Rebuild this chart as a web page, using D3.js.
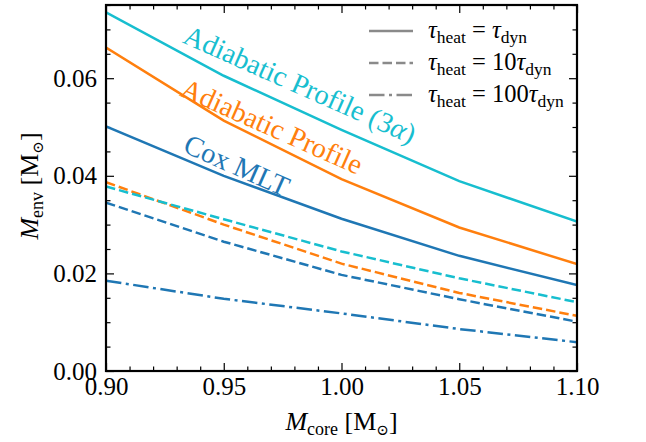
<!DOCTYPE html>
<html>
<head>
<meta charset="utf-8">
<script src="https://cdn.jsdelivr.net/npm/d3@7"></script>
<style>
  html, body { margin: 0; padding: 0; background: #fff; }
  svg { display: block; }
  text { font-family: "Liberation Serif", "DejaVu Serif", serif; fill: #000; }
</style>
</head>
<body>
<svg id="chart" width="646" height="442"></svg>
<script>
// Core mass grid (M_sun)
const coreMass = [0.90, 0.95, 1.00, 1.05, 1.10];

// Envelope mass (M_sun), tau_heat = tau_dyn
const adiabatic3aDyn = [0.0735, 0.0605, 0.0494, 0.0389, 0.0306];
const adiabaticDyn   = [0.0663, 0.0513, 0.0393, 0.0294, 0.0219];
const coxDyn         = [0.0501, 0.0400, 0.0312, 0.0236, 0.0176];

// tau_heat = 10 tau_dyn
const adiabatic3a10 = [0.0378, 0.0311, 0.0245, 0.0190, 0.0141];
const adiabatic10   = [0.0387, 0.0300, 0.0220, 0.0160, 0.0113];
const cox10         = [0.0345, 0.0265, 0.0197, 0.0147, 0.0101];

// tau_heat = 100 tau_dyn
const cox100 = [0.0185, 0.0148, 0.0118, 0.0086, 0.0059];

// Axis ticks
const xMajorTicks = [0.90, 0.95, 1.00, 1.05, 1.10];
const yMajorTicks = [0.00, 0.02, 0.04, 0.06];

const C_BLUE = "#1f77b4", C_ORANGE = "#ff7f0e", C_CYAN = "#17becf";

const W = 646, H = 442;
const margin = { left: 106, right: 69, top: 5, bottom: 71 };
const pw = W - margin.left - margin.right;
const ph = H - margin.top - margin.bottom;

const svg = d3.select("#chart");
const g = svg.append("g").attr("transform", `translate(${margin.left},${margin.top})`);

const x = d3.scaleLinear().domain([0.90, 1.10]).range([0, pw]);
const y = d3.scaleLinear().domain([0, 0.075]).range([ph, 0]);

const xMinor = d3.range(0, 21).map(i => 0.90 + i * 0.01).filter(v => !xMajorTicks.some(t => Math.abs(t - v) < 1e-9));
const yMinor = d3.range(0, 16).map(i => i * 0.005).filter(v => !yMajorTicks.some(t => Math.abs(t - v) < 1e-9));

const fmt = d3.format(".2f");
const MAJ = 8, MIN = 4.5;

function styleAxis(sel) {
  sel.select(".domain").remove();
  sel.selectAll(".tick line").attr("stroke", "#000").attr("stroke-width", 1.2);
  sel.selectAll(".tick text")
    .style("font-family", '"Liberation Serif", "DejaVu Serif", serif')
    .style("font-size", "25px")
    .attr("fill", "#000");
}

// Bottom axis (labels) + minor ticks
g.append("g").attr("transform", `translate(0,${ph})`)
  .call(d3.axisBottom(x).tickValues(xMajorTicks).tickFormat(fmt).tickSizeInner(-MAJ).tickSizeOuter(0).tickPadding(6))
  .call(styleAxis);
g.append("g").attr("transform", `translate(0,${ph})`)
  .call(d3.axisBottom(x).tickValues(xMinor).tickFormat("").tickSizeInner(-MIN).tickSizeOuter(0))
  .call(styleAxis);
// Top axis
g.append("g")
  .call(d3.axisTop(x).tickValues(xMajorTicks).tickFormat("").tickSizeInner(-MAJ).tickSizeOuter(0))
  .call(styleAxis);
g.append("g")
  .call(d3.axisTop(x).tickValues(xMinor).tickFormat("").tickSizeInner(-MIN).tickSizeOuter(0))
  .call(styleAxis);
// Left axis (labels)
g.append("g")
  .call(d3.axisLeft(y).tickValues(yMajorTicks).tickFormat(fmt).tickSizeInner(-MAJ).tickSizeOuter(0).tickPadding(9))
  .call(styleAxis);
g.append("g")
  .call(d3.axisLeft(y).tickValues(yMinor).tickFormat("").tickSizeInner(-MIN).tickSizeOuter(0))
  .call(styleAxis);
// Right axis
g.append("g").attr("transform", `translate(${pw},0)`)
  .call(d3.axisRight(y).tickValues(yMajorTicks).tickFormat("").tickSizeInner(-MAJ).tickSizeOuter(0))
  .call(styleAxis);
g.append("g").attr("transform", `translate(${pw},0)`)
  .call(d3.axisRight(y).tickValues(yMinor).tickFormat("").tickSizeInner(-MIN).tickSizeOuter(0))
  .call(styleAxis);

// Curves
g.append("clipPath").attr("id", "plotclip")
  .append("rect").attr("width", pw).attr("height", ph);

const line = d3.line().x(d => x(d[0])).y(d => y(d[1]));
const DASH = "9.5,4";
const DASHDOT = "15.5,4.5,3,4.5";
const LW = 2.5;

const series = [
  { v: cox100, color: C_BLUE, dash: DASHDOT },
  { v: cox10, color: C_BLUE, dash: DASH },
  { v: adiabatic10, color: C_ORANGE, dash: DASH },
  { v: adiabatic3a10, color: C_CYAN, dash: DASH },
  { v: coxDyn, color: C_BLUE, dash: null },
  { v: adiabaticDyn, color: C_ORANGE, dash: null },
  { v: adiabatic3aDyn, color: C_CYAN, dash: null }
];

const curves = g.append("g").attr("clip-path", "url(#plotclip)");
series.forEach(s => {
  curves.append("path")
    .datum(coreMass.map((m, i) => [m, s.v[i]]))
    .attr("d", line)
    .attr("fill", "none")
    .attr("stroke", s.color)
    .attr("stroke-width", LW)
    .attr("stroke-dasharray", s.dash)
    .attr("stroke-linecap", "butt");
});

// Frame
g.append("rect").attr("width", pw).attr("height", ph)
  .attr("fill", "none").attr("stroke", "#000").attr("stroke-width", 2.2);

// In-line curve labels, rotated along the curves
const curveLabels = [
  { text: "Adiabatic Profile (3α)", color: C_CYAN, at: [0.9824, 0.0588] },
  { text: "Adiabatic Profile", color: C_ORANGE, at: [0.9705, 0.0502] },
  { text: "Cox MLT", color: C_BLUE, at: [0.9556, 0.0422] }
];
curveLabels.forEach(l => {
  const t = g.append("text")
    .attr("transform", `translate(${x(l.at[0])},${y(l.at[1])}) rotate(24)`)
    .attr("text-anchor", "middle")
    .attr("dy", "0.35em")
    .style("font-size", "28.5px")
    .style("fill", l.color);
  if (l.text.endsWith("(3α)")) {
    t.append("tspan").text("Adiabatic Profile (3");
    t.append("tspan").style("font-style", "italic").text("α");
    t.append("tspan").text(")");
  } else {
    t.text(l.text);
  }
});

// Legend
const legendItems = [
  { dash: null, factor: "" },
  { dash: DASH, factor: "10" },
  { dash: DASHDOT, factor: "100" }
];
const legend = svg.append("g");
legendItems.forEach((it, i) => {
  const ly = 31 + i * 32;
  legend.append("line")
    .attr("x1", 369).attr("x2", 413).attr("y1", ly).attr("y2", ly)
    .attr("stroke", "#8a8a8a").attr("stroke-width", LW)
    .attr("stroke-dasharray", it.dash);
  const t = legend.append("text").attr("x", 428).attr("y", ly + 7).style("font-size", "24.5px");
  t.append("tspan").style("font-style", "italic").text("τ");
  t.append("tspan").attr("dy", 5).style("font-size", "17.5px").text("heat");
  t.append("tspan").attr("dy", -5).text(" = " + it.factor);
  t.append("tspan").style("font-style", "italic").text("τ");
  t.append("tspan").attr("dy", 5).style("font-size", "17.5px").text("dyn");
});

// Axis titles
const xt = svg.append("text")
  .attr("x", margin.left + pw / 2).attr("y", 430)
  .attr("text-anchor", "middle").style("font-size", "26px");
xt.append("tspan").style("font-style", "italic").text("M");
xt.append("tspan").attr("dy", 5).style("font-size", "18px").text("core");
xt.append("tspan").attr("dy", -5).text(" [M");
xt.append("tspan").attr("dy", 5).style("font-size", "15px").style("font-family", '"DejaVu Serif", serif').text("⊙");
xt.append("tspan").attr("dy", -5).text("]");

const yt = svg.append("text")
  .attr("transform", `translate(38,${margin.top + ph / 2 - 2}) rotate(-90)`)
  .attr("text-anchor", "middle").style("font-size", "26px");
yt.append("tspan").style("font-style", "italic").text("M");
yt.append("tspan").attr("dy", 5).style("font-size", "18px").text("env");
yt.append("tspan").attr("dy", -5).text(" [M");
yt.append("tspan").attr("dy", 5).style("font-size", "15px").style("font-family", '"DejaVu Serif", serif').text("⊙");
yt.append("tspan").attr("dy", -5).text("]");
</script>
</body>
</html>
